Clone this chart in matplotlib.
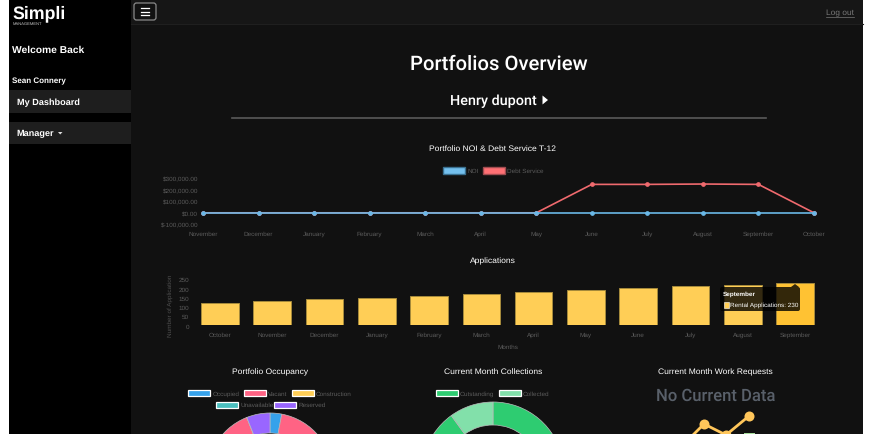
import matplotlib
matplotlib.use('Agg')
import matplotlib.pyplot as plt
from matplotlib.patches import Rectangle, FancyBboxPatch

W, H = 872, 435
plt.rcParams['font.family'] = ['Liberation Sans', 'DejaVu Sans']
plt.rcParams['text.hinting'] = 'no_hinting'
HEAD_FONT = ['Roboto', 'Liberation Sans']

# line chart
line_months = ['November', 'December', 'January', 'February', 'March', 'April', 'May',
               'June', 'July', 'August', 'September', 'October']
noi = [0, 0, 0, 0, 0, 0, 0, 0, 0, 0, 0, 0]
debt_service = [0, 0, 0, 0, 0, 0, 0, 245000, 245000, 248000, 245000, 0]
line_ticks = [-100000, 0, 100000, 200000, 300000]
line_tick_labels = ['$-100,000.00', '$0.00', '$100,000.00', '$200,000.00', '$300,000.00']

# bar chart
bar_months = ['October', 'November', 'December', 'January', 'February', 'March', 'April',
              'May', 'June', 'July', 'August', 'September']
applications = [120, 130, 140, 150, 160, 170, 180, 190, 200, 210, 220, 230]
bar_ticks = [0, 50, 100, 150, 200, 250]

# doughnuts
occupancy_labels = ['Occupied', 'Vacant', 'Construction', 'Unavailable', 'Reserved']
occupancy_values = [3, 91, 0, 0, 6]
occupancy_colors = ['#36a2eb', '#ff6384', '#ffce56', '#4bc0c0', '#9966ff']
collection_labels = ['Outstanding', 'Collected']
collection_values = [90, 10]
collection_colors = ['#2ecc71', '#82e0aa']

BG = '#111111'
TICK = '#5c5c5c'
SMALL = 4.6
TITLE = 6.1


def px_axes(x0, y0, x1, y1, **kw):
    # axes from pixel box, y measured from the top
    return fig.add_axes([x0 / W, 1 - y1 / H, (x1 - x0) / W, (y1 - y0) / H], **kw)


def swatch(x, y, w, h, fc, ec, lw=1.0):
    page.add_patch(Rectangle((x, y), w, h, fc=fc, ec=ec, lw=lw))


fig = plt.figure(figsize=(W / 100, H / 100), dpi=100, facecolor='white')

# page background, everything here is in pixels
page = px_axes(0, 0, W, H)
page.set_xlim(0, W)
page.set_ylim(H - 1, -1)
page.axis('off')
page.add_patch(Rectangle((131, -1), 732, H + 1, fc=BG, ec='none'))
page.add_patch(Rectangle((131, -1), 732, 25, fc='#161616', ec='none'))
page.plot([131, 863], [24, 24], color='#1f1f1f', lw=0.8)
page.add_patch(Rectangle((9, -1), 122, H + 1, fc='black', ec='none'))
page.add_patch(Rectangle((9, 90), 122, 23, fc='#1e1e1e', ec='none'))
page.add_patch(Rectangle((9, 122), 122, 22, fc='#1e1e1e', ec='none'))

# sidebar
page.text(12.5, 13, 'Simpli', color='white', fontsize=12.8, fontweight='bold', va='center')
page.text(13, 23, 'MANAGEMENT', color='#cccccc', fontsize=3, va='center')
page.text(12, 49.5, 'Welcome Back', color='white', fontsize=7.4, fontweight='bold', va='center')
page.text(12, 80, 'Sean Connery', color='white', fontsize=5.8, fontweight='bold', va='center')
page.text(16.5, 102, 'My Dashboard', color='white', fontsize=6.6, fontweight='bold', va='center')
page.text(16, 133, 'Manager', color='white', fontsize=6.6, fontweight='bold', va='center')
page.fill([58, 62.5, 60.2], [132, 132, 134.5], color='#dddddd', lw=0)

# top bar
page.add_patch(FancyBboxPatch((134, 3), 22, 17, boxstyle='round,pad=0,rounding_size=2.5',
                              fc='#111111', ec='#8a8a8a', lw=0.9))
for y in [8, 11.5, 15]:
    page.plot([141, 149], [y, y], color='white', lw=0.9)
page.text(840, 12, 'Log out', color='#777777', fontsize=6, ha='center', va='center')
page.plot([826, 854], [16.5, 16.5], color='#777777', lw=0.5)

# headings
page.text(499, 63, 'Portfolios Overview', color='white', fontsize=14.6, fontweight='medium',
          family=HEAD_FONT, ha='center', va='center')
page.text(493, 100, 'Henry dupont', color='white', fontsize=10.4, fontweight='medium',
          family=HEAD_FONT, ha='center', va='center')
page.fill([542.5, 542.5, 548], [95.5, 104.5, 100], color='white', lw=0)
page.plot([232, 766], [118, 118], color='#5a5a5a', lw=1.2)
page.text(492.5, 148, 'Portfolio NOI & Debt Service T-12', color='white', fontsize=TITLE, ha='center', va='center')
page.text(493, 260, 'Applications', color='white', fontsize=TITLE, ha='center', va='center')
page.text(270, 371, 'Portfolio Occupancy', color='white', fontsize=TITLE, ha='center', va='center')
page.text(493, 371, 'Current Month Collections', color='white', fontsize=TITLE, ha='center', va='center')
page.text(715.5, 371, 'Current Month Work Requests', color='white', fontsize=TITLE, ha='center', va='center')
page.text(715.5, 395, 'No Current Data', color='#59606a', fontsize=12, fontweight='medium',
          family=HEAD_FONT, ha='center', va='center')

# line chart legend
swatch(443, 167, 22, 7, '#74c0ee', '#3a7090')
page.text(467.5, 170.5, 'NOI', color=TICK, fontsize=SMALL, va='center')
swatch(483, 167, 22, 7, '#ff7074', '#a04c50')
page.text(507, 170.5, 'Debt Service', color=TICK, fontsize=SMALL, va='center')

# NOI & debt service line chart
ax1 = px_axes(203, 179, 814, 225.4)
ax1.patch.set_alpha(0)
xs = range(len(line_months))
ax1.plot(xs, debt_service, color='#f06a6e', lw=1.2, marker='o', ms=2.4, clip_on=False)
ax1.plot(xs, noi, color='#6ab8e6', lw=1.2, marker='o', ms=2.4, clip_on=False)
ax1.set_xlim(0, 11)
ax1.set_ylim(-100000, 300000)
ax1.set_xticks(list(xs), line_months, va='baseline')
ax1.set_yticks(line_ticks, line_tick_labels)
ax1.tick_params(length=0, labelsize=SMALL, labelcolor=TICK)
ax1.tick_params(axis='x', pad=7.6)
ax1.tick_params(axis='y', pad=3.5)
for s in ax1.spines.values():
    s.set_visible(False)

# applications bar chart
ax2 = px_axes(193.85, 280, 821.15, 326.4)
ax2.patch.set_alpha(0)
bar_colors = ['#ffce56'] * 11 + ['#ffc233']
ax2.bar(range(len(bar_months)), applications, width=0.72, color=bar_colors, edgecolor='#a58a3c', lw=0.7)
ax2.set_xlim(-0.5, 11.5)
ax2.set_ylim(0, 250)
ax2.set_xticks(range(len(bar_months)), bar_months, va='baseline')
ax2.set_yticks(bar_ticks)
ax2.tick_params(length=0, labelsize=SMALL, labelcolor=TICK)
ax2.tick_params(axis='x', pad=7.3)
ax2.tick_params(axis='y', pad=3.5)
for s in ax2.spines.values():
    s.set_visible(False)
page.text(170.5, 305, 'Number of Application', color='#4f4f4f', fontsize=SMALL, rotation=90, ha='center', va='center')
page.text(508, 346, 'Months', color=TICK, fontsize=SMALL, ha='center', va='center')

# doughnut legends
leg_x = [188, 244, 292, 216, 274]
leg_tx = [213, 268, 316, 240, 298]
leg_y = [393, 393, 393, 404.5, 404.5]
for i in range(len(occupancy_labels)):
    swatch(leg_x[i], leg_y[i] - 3, 21.5, 6, occupancy_colors[i], 'white', 0.9)
    page.text(leg_tx[i], leg_y[i], occupancy_labels[i], color=TICK, fontsize=SMALL, va='center')
for x, tx, lab, col in zip([436, 499], [460, 523], collection_labels, collection_colors):
    swatch(x, 390, 21.5, 6, col, 'white', 0.9)
    page.text(tx, 393, lab, color=TICK, fontsize=SMALL, va='center')

# "no data" illustration
icon_x = [693, 704, 726, 749]
icon_y = [435, 424, 435, 416]
page.plot(icon_x, icon_y, color='#ffc65a', lw=2)
page.scatter(icon_x[1:], icon_y[1:], s=52, color='#ffc65a', zorder=3, lw=0)
page.add_patch(Rectangle((744, 433), 11, 3, fc='#a5dc9a', ec='none'))

# doughnuts run past the bottom of the screenshot
ax3 = px_axes(270 - 64, 477 - 64, 270 + 64, 477 + 64)
ax3.pie(occupancy_values, colors=occupancy_colors, radius=63 / 64, startangle=90, counterclock=False,
        wedgeprops=dict(width=20 / 64, edgecolor='#bbbbbb', linewidth=0.5))
ax3.set_xlim(-1, 1)
ax3.set_ylim(-1, 1)

ax4 = px_axes(493 - 72, 474 - 72, 493 + 72, 474 + 72)
ax4.pie(collection_values, colors=collection_colors, radius=71 / 72, startangle=90, counterclock=False,
        wedgeprops=dict(width=23 / 72, edgecolor='#bbbbbb', linewidth=0.5))
ax4.set_xlim(-1, 1)
ax4.set_ylim(-1, 1)

# tooltip on top of the bars
top = px_axes(0, 0, W, H, zorder=10)
top.set_xlim(0, W)
top.set_ylim(H - 1, -1)
top.axis('off')
top.add_patch(FancyBboxPatch((720, 287), 80, 24, boxstyle='round,pad=0,rounding_size=2',
                             fc='black', ec='none', alpha=0.8))
top.fill([791, 795, 799], [287, 284, 287], color='black', alpha=0.8, lw=0)
top.text(723, 293.5, 'September', color='white', fontsize=SMALL, fontweight='bold', va='center')
top.add_patch(Rectangle((723.5, 301.5), 5.5, 6, fc='#ffce56', ec='white', lw=0.4))
top.text(730, 304.5, 'Rental Applications: 230', color='white', fontsize=SMALL, va='center')

fig.savefig('out.png', dpi=100)
